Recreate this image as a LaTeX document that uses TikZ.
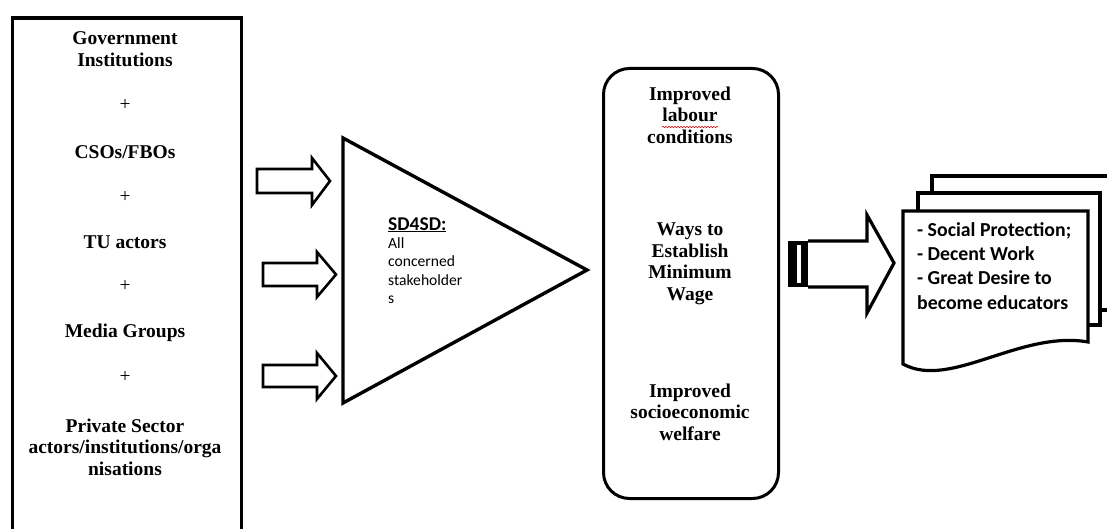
\documentclass[tikz,border=0pt]{standalone}
\usepackage{fontspec}
\setmainfont{Liberation Serif}
\newfontfamily\calib{Carlito}
\usetikzlibrary{decorations.pathmorphing}
\begin{document}
\begin{tikzpicture}[x=1pt,y=-1pt,
  sb/.style={font=\fontsize{19.5}{21.5}\selectfont\bfseries, align=center, inner sep=0pt},
  pl/.style={font=\fontsize{19.5}{21.5}\selectfont, inner sep=0pt},
  frame/.style={draw, line width=3.2pt},
  blockarr/.style={draw, line width=2.6pt, line join=miter, fill=white},
  docline/.style={draw, line width=3.2pt, line join=miter, fill=white}]
\useasboundingbox (0,0) rectangle (1107,529);
\clip (0,0) rectangle (1107,529);

% left box
\node[frame, minimum width=229pt, minimum height=540pt, anchor=north west, inner sep=0pt] (actorsbox) at (10.5,16.5) {};
\node[sb] (gov) at (125,49) {Government\\Institutions};
\node[pl] (p1) at (125,105) {+};
\node[sb] (cso) at (125,152) {CSOs/FBOs};
\node[pl] (p2) at (125,197) {+};
\node[sb] (tu) at (125,242) {TU actors};
\node[pl] (p3) at (125,286) {+};
\node[sb] (media) at (125,333) {Media Groups};
\node[pl] (p4) at (125,377) {+};
\node[sb] (priv) at (125,447) {Private Sector\\actors/institutions/orga\\nisations};

% hollow block arrows
\draw[blockarr] (257,169) -- (312,169) -- (312,158) -- (330,181) -- (312,205) -- (312,193) -- (257,193) -- cycle;
\draw[blockarr] (263,263) -- (317,263) -- (317,252) -- (336,274.5) -- (317,297) -- (317,286) -- (263,286) -- cycle;
\draw[blockarr] (263,365) -- (317,365) -- (317,353) -- (336,376) -- (317,399) -- (317,387) -- (263,387) -- cycle;

% triangle
\draw[line width=3.4pt, line join=miter] (343,138) -- (587,270) -- (343,403) -- cycle;
\node[font=\calib\bfseries\fontsize{19.5}{20}\selectfont, anchor=base west, inner sep=0pt] (sd) at (388,230) {\underline{SD4SD:}};
\node[font=\calib\fontsize{15.6}{18.3}\selectfont, anchor=north west, align=left, inner sep=0pt] (allst) at (388,237.5) {All\\concerned\\stakeholder\\s};

% rounded outcomes box
\node[draw, line width=3pt, rounded corners=26pt, minimum width=175pt, minimum height=430pt, anchor=north west, inner sep=0pt] (outbox) at (602,67) {};
\node[sb] (lab) at (690,115) {Improved\\labour\\conditions};
\draw[red!85!black, line width=0.6pt, decorate, decoration={snake, amplitude=0.7pt, segment length=3pt}] (662,127) -- (718,127);
\node[sb] (wage) at (690,264) {Ways to\\Establish\\Minimum\\Wage};
\node[sb] (wel) at (690,412) {Improved\\socioeconomic\\welfare};

% striped arrow
\fill (788,241) rectangle (808,287);
\fill[white] (797,245) rectangle (800.5,283);
\draw[line width=3.2pt, line join=miter, fill=white] (808,241) -- (867,241) -- (867,215) -- (894,263) -- (867,313) -- (867,287) -- (808,287);

% multidocument
\draw[docline] (932,176) rectangle (1125,310);
\draw[docline] (918,193) rectangle (1100,325);
\draw[docline] (903,211) -- (1088,211) -- (1088,342) .. controls (1020,330) and (950,390) .. (903,364) -- cycle;
\node[font=\calib\bfseries\fontsize{19.8}{24}\selectfont, anchor=north west, align=left, inner sep=0pt] (res) at (917,222) {- Social Protection;\\- Decent Work\\- Great Desire to\\[1pt]become educators};
\end{tikzpicture}
\end{document}
